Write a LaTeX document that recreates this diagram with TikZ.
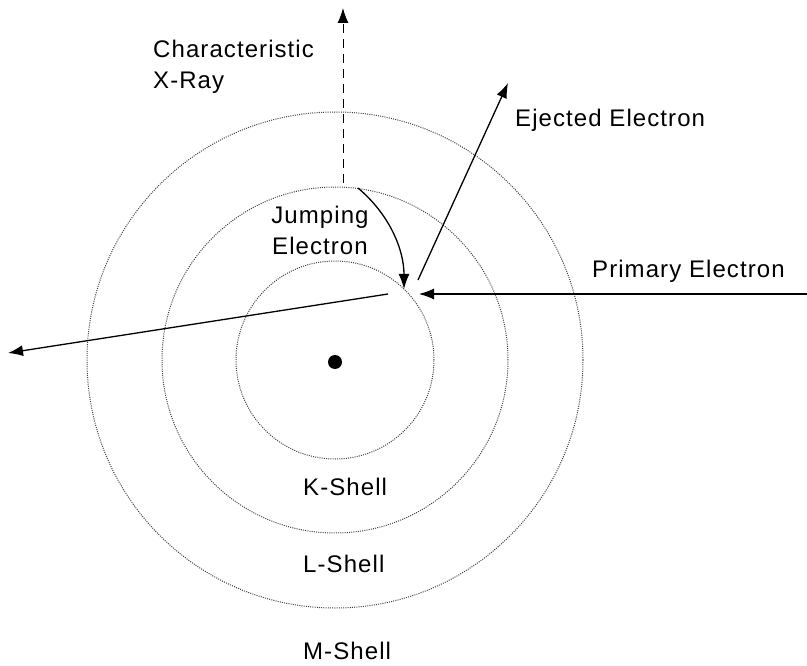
\documentclass[tikz,border=0pt]{standalone}
\usepackage{fontspec}
\setmainfont{Liberation Sans}
\newfontfamily\lblfont[LetterSpace=4.5]{Liberation Sans}
\usetikzlibrary{arrows.meta}
\begin{document}
\begin{tikzpicture}[x=1pt,y=-1pt,
  shell/.style={circle,draw=black!75,line width=1pt,dash pattern=on 1pt off 1.2pt,inner sep=0pt},
  lbl/.style={inner sep=0pt,font=\lblfont\fontsize{24}{31}\selectfont},
  arr/.style={line width=1.3pt,-{Latex[length=15pt,width=11pt]}}]
\useasboundingbox (0,0) rectangle (807,666);
\node[shell,minimum size=496pt] (mshell) at (335,360) {};
\node[shell,minimum size=346pt] (lshell) at (335,360) {};
\node[shell,minimum size=198pt] (kshell) at (335,360) {};
\node[circle,fill=black,minimum size=14pt,inner sep=0pt] (nucleus) at (335,362) {};
% coordinates
\coordinate (xstart) at (343,183);
\coordinate (xend) at (343,8);
\coordinate (jstart) at (358,188);
\coordinate (jend) at (404,289);
\coordinate (estart) at (418,280);
\coordinate (eend) at (508,83);
\coordinate (pstart) at (807,294);
\coordinate (pend) at (419,294);
\coordinate (sstart) at (388,294);
\coordinate (send) at (8,353);
\draw[arr,dashed,dash pattern=on 9pt off 6pt,line width=1pt] (xstart) -- (xend);
\draw[arr] (jstart) .. controls (390,215) and (404,250) .. (jend);
\draw[arr] (estart) -- (eend);
\draw[arr] (pstart) -- (pend);
\draw[arr] (sstart) -- (send);
% labels
\node[lbl,anchor=north west,align=left] (xray) at (153,39.5) {Characteristic\\X-Ray};
\node[lbl,anchor=base west] (ejected) at (515,127) {Ejected Electron};
\node[lbl,anchor=north,align=center] (jumping) at (320,205.5) {Jumping\\Electron};
\node[lbl,anchor=base west] (primary) at (592,278) {Primary Electron};
\node[lbl,anchor=base west] (klabel) at (303,495) {K-Shell};
\node[lbl,anchor=base west] (llabel) at (303,572) {L-Shell};
\node[lbl,anchor=base west] (mlabel) at (303,659) {M-Shell};
\end{tikzpicture}
\end{document}
